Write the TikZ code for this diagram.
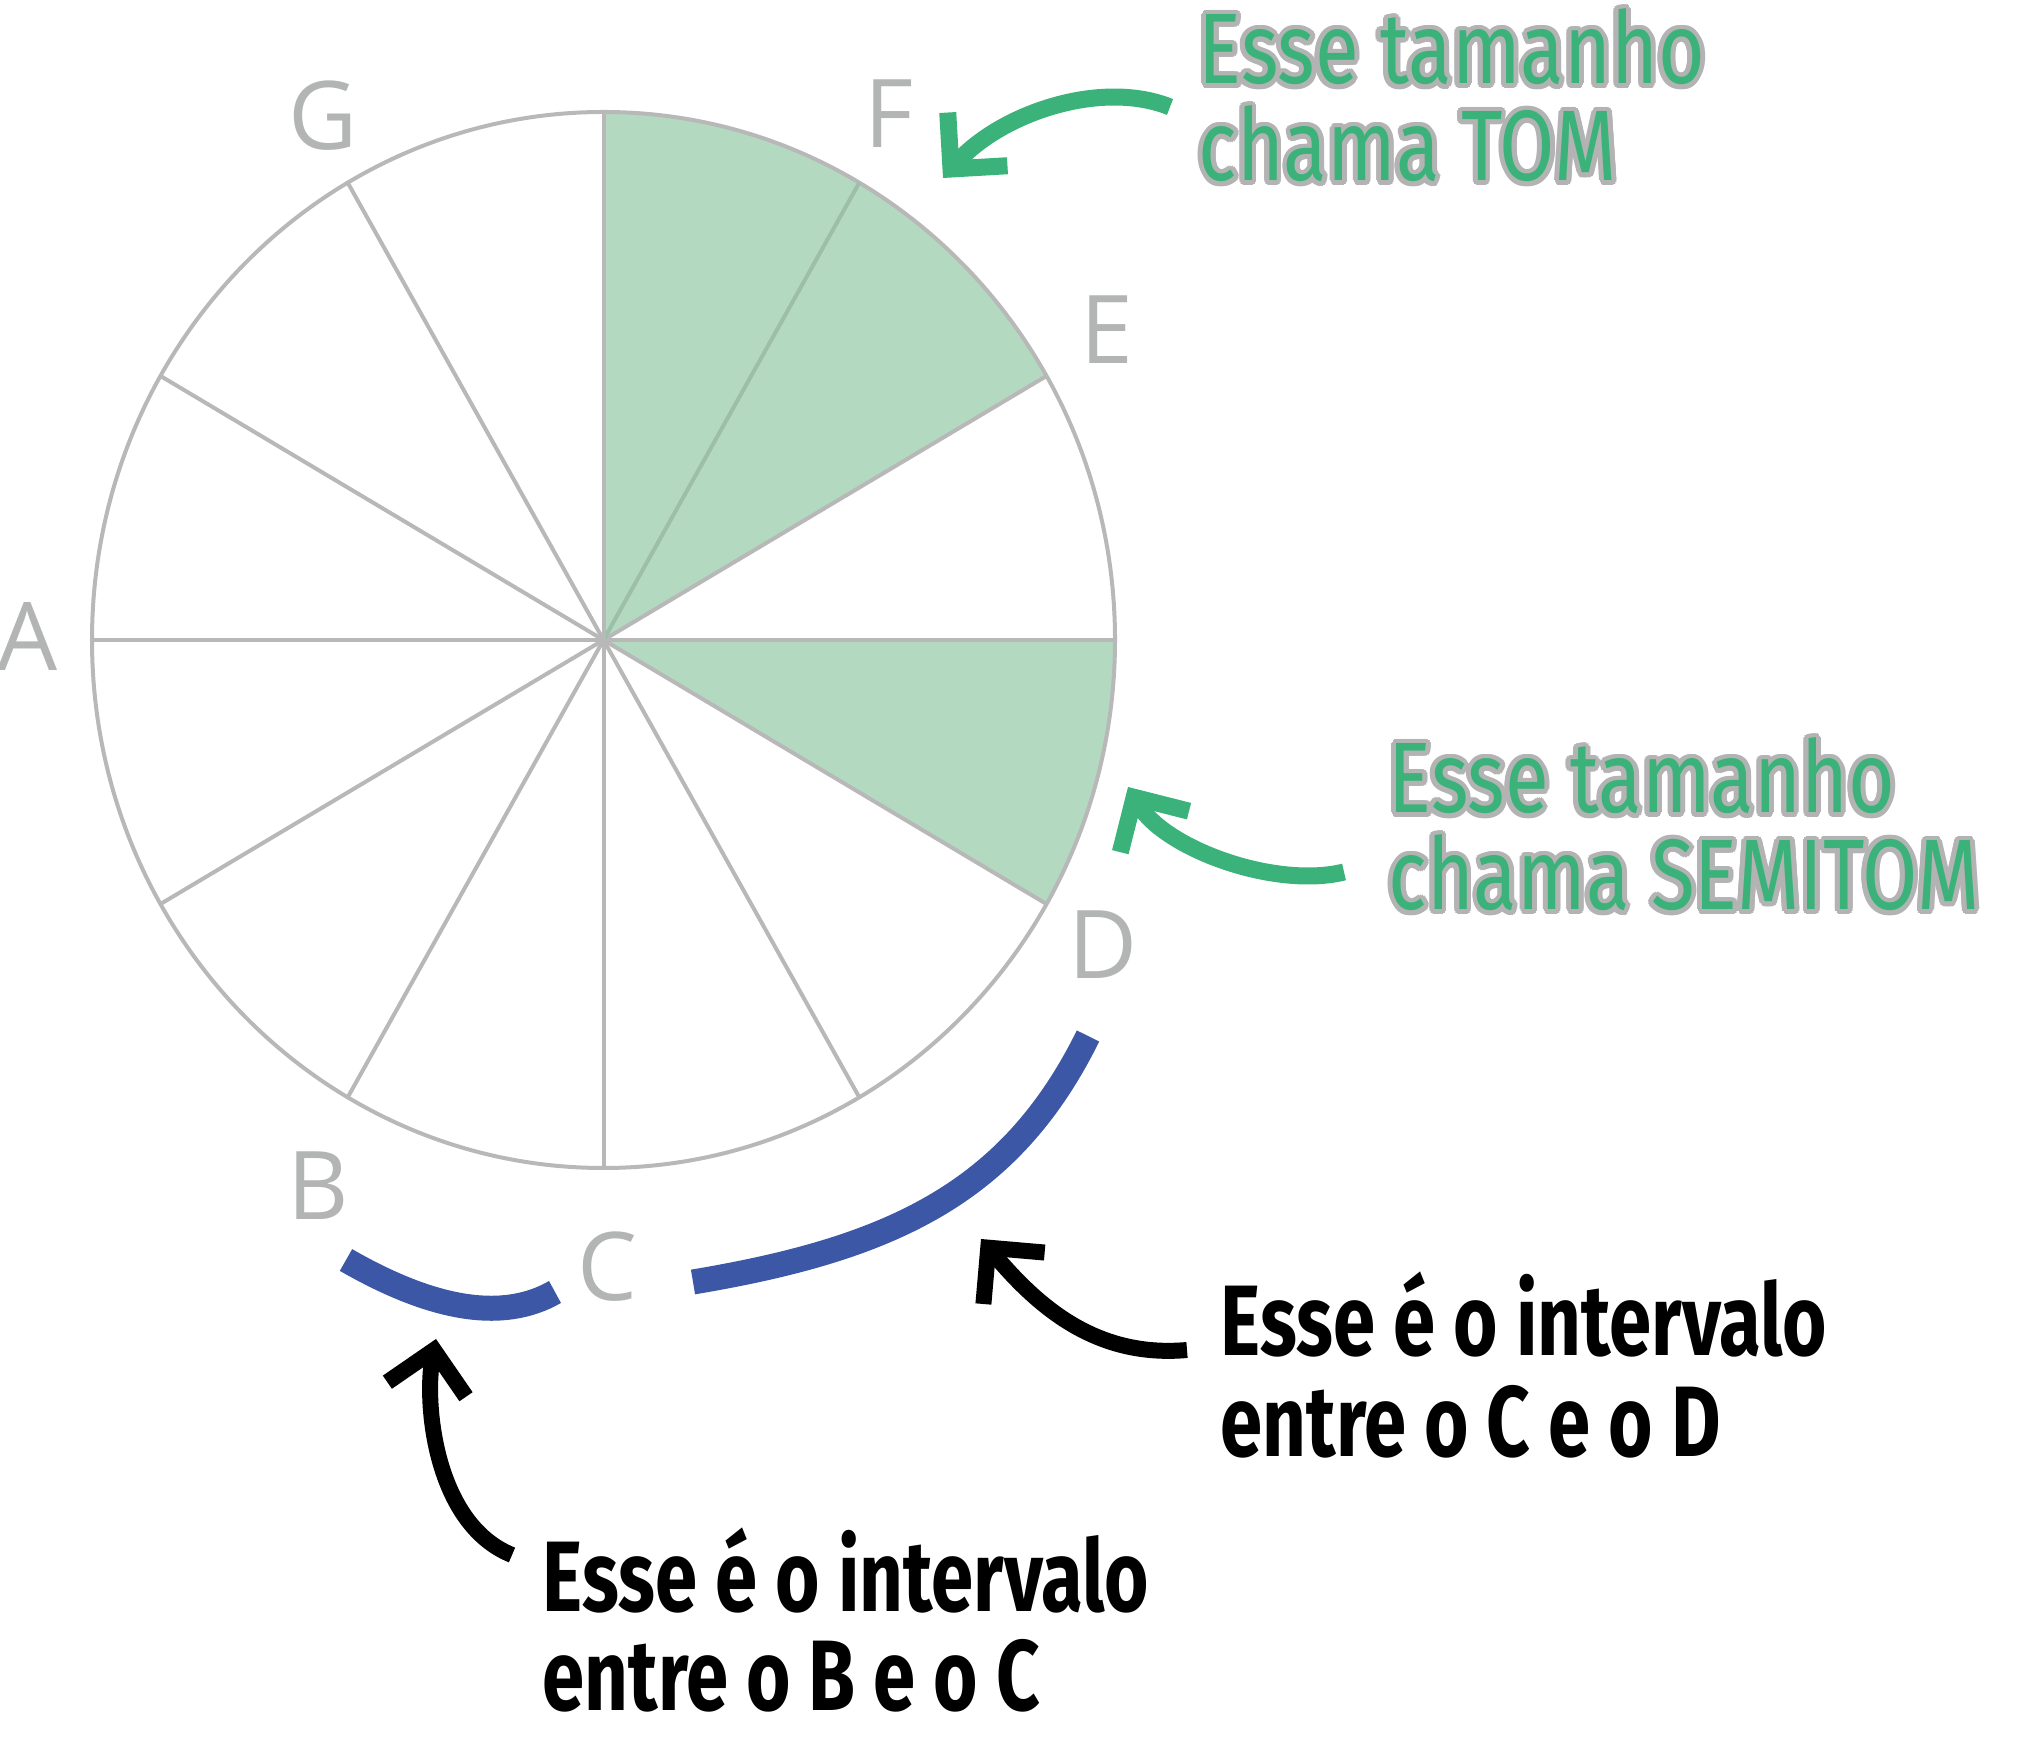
\documentclass[tikz,border=0pt]{standalone}
\usepackage{fontspec}
\usepackage[copies]{contour}
\usetikzlibrary{arrows.meta}
\setmainfont{Open Sans}
\newfontfamily\notafont{Fira Sans}[FakeStretch=0.80]
\newfontfamily\notablk{Fira Sans}[FakeStretch=0.76]

\definecolor{cLine}{HTML}{B8B8B8}
\definecolor{cLbl}{HTML}{B3B4B4}
\definecolor{cWedge}{HTML}{B3DAC1}
\definecolor{cWedgeLine}{HTML}{9DBFA9}
\definecolor{cGreen}{HTML}{3AB27A}
\definecolor{cBlue}{HTML}{3C57A6}
\definecolor{cOutl}{HTML}{B3B3B3}

\contourlength{1.4pt}

\tikzset{
  circLine/.style={line width=0.04cm},
  noteLbl/.style={text=cLbl, font=\fontsize{27}{30}\selectfont, inner sep=0pt},
  tomTxt/.style={text=cGreen, font=\notafont\fontsize{28.5}{32}\selectfont, anchor=base west, inner sep=0pt},
  blkTxt/.style={text=black, font=\notablk\bfseries\fontsize{28.5}{32}\selectfont, anchor=base west, inner sep=0pt},
  intArc/.style={cBlue, line width=0.25cm},
  grnArrow/.style={cGreen, line width=0.17cm, -{Straight Barb[length=0.4cm, width=0.8cm, sharp]}},
  blkArrow/.style={black, line width=0.16cm, -{Straight Barb[length=0.4cm, width=0.8cm, sharp]}}
}

\begin{document}
\begin{tikzpicture}
\useasboundingbox (0,0) rectangle (20.24,17.49);
\coordinate (cOPt) at (6.035,11.09);

%fatias de tom e semitom
\fill[cWedge] (cOPt) -- ++(30:5.115 and 5.28) arc[start angle=30, end angle=90, x radius=5.115, y radius=5.28] -- cycle;
\fill[cWedge] (cOPt) -- ++(-30:5.115 and 5.28) arc[start angle=-30, end angle=0, x radius=5.115, y radius=5.28] -- cycle;

\draw[circLine, cLine] (cOPt) ellipse [x radius=5.115, y radius=5.28];
\foreach \a/\c in {0/cLine,30/cLine,60/cWedgeLine,90/cLine,120/cLine,150/cLine,
    180/cLine,210/cLine,240/cLine,270/cLine,300/cLine,330/cLine}
{
    \draw[circLine, \c] (cOPt) -- ++(\a:5.115 and 5.28);
};

\foreach \n/\x/\y in
{A/0.28/11.13,
    B/3.18/5.63,
    C/6.07/4.82,
    D/11.03/8.04,
    E/11.07/14.19,
    F/8.89/16.35,
    G/3.23/16.33}
{
    \node[noteLbl] (l\n) at (\x,\y) {\n};
};

%intervalos B-C e C-D
\coordinate (cBPt) at (3.46,4.89);
\coordinate (cCaPt) at (5.55,4.57);
\coordinate (cCbPt) at (6.93,4.67);
\coordinate (cDPt) at (10.88,7.13);
\draw[intArc] (cBPt) .. controls (4.33,4.39) and (5.03,4.27) .. (cCaPt);
\draw[intArc] (cCbPt) .. controls (8.90,5.00) and (10.10,5.55) .. (cDPt);

\node[tomTxt] (tTomA) at (11.98,16.65) {\contour{cOutl}{Esse tamanho}};
\node[tomTxt] (tTomB) at (11.98,15.68) {\contour{cOutl}{chama TOM}};
\node[tomTxt] (tSemiA) at (13.88,9.36) {\contour{cOutl}{Esse tamanho}};
\node[tomTxt] (tSemiB) at (13.88,8.39) {\contour{cOutl}{chama SEMITOM}};
\node[blkTxt] (tCDA) at (12.20,3.94) {Esse é o intervalo};
\node[blkTxt] (tCDB) at (12.20,2.93) {entre o C e o D};
\node[blkTxt] (tBCA) at (5.42,1.38) {Esse é o intervalo};
\node[blkTxt] (tBCB) at (5.42,0.39) {entre o B e o C};

%setas
\coordinate (cTomTail) at (11.70,16.42);
\coordinate (cTomTip) at (9.43,15.71);
\coordinate (cSemiTail) at (13.44,8.77);
\coordinate (cSemiTip) at (11.28,9.62);
\coordinate (cCDTail) at (11.87,3.99);
\coordinate (cCDTip) at (9.81,5.10);
\coordinate (cBCTail) at (5.12,1.94);
\coordinate (cBCTip) at (4.36,4.10);

\draw[grnArrow] (cTomTail) .. controls (11.0,16.70) and (10.0,16.35) .. (cTomTip);
\draw[grnArrow] (cSemiTail) .. controls (12.75,8.60) and (11.65,9.00) .. (cSemiTip);
\draw[blkArrow] (cCDTail) .. controls (10.97,3.91) and (10.39,4.41) .. (cCDTip);
\draw[blkArrow] (cBCTail) .. controls (4.35,2.25) and (4.24,3.45) .. (cBCTip);

\end{tikzpicture}
\end{document}
